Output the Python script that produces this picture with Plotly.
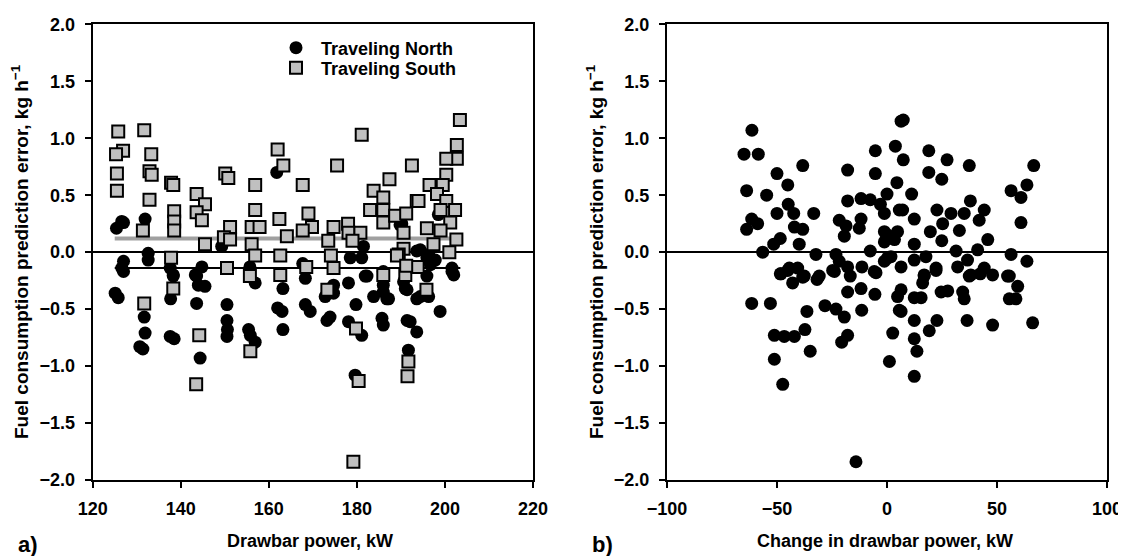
import plotly.graph_objects as go

# ---- Panel a) : Traveling North (circles) ----
north_x = [161.8,127.0,131.9,132.6,132.6,181.5,178.5,181.1,190.2,193.6,144.8,155.7,167.7,149.3,186.0,181.9,127.0,127.0,138.3,143.3,
           126.6,125.4,125.1,125.8,130.7,
           126.6,137.6,138.3,137.7,131.7,131.9,131.4,137.6,138.5,
           143.6,144.0,145.5,143.6,144.4,150.5,150.5,150.6,150.5,
           156.9,155.4,155.8,156.9,162.0,163.0,163.2,163.2,
           168.3,168.3,169.4,172.8,173.9,173.2,174.7,174.7,
           178.1,178.1,179.8,181.1,179.6,182.3,183.8,186.0,186.0,186.8,185.7,186.0,
           190.6,191.4,193.6,191.4,192.1,193.6,191.7,
           187.2,191.0,194.4,196.3,195.9,198.9,201.6,202.0,196.3,197.8,
           189.8,194.4,195.9,196.7,201.6,198.5]
north_y = [0.70,0.26,0.29,-0.01,-0.07,0.05,-0.05,-0.05,0.25,0.01,-0.13,-0.13,-0.10,0.05,-0.17,-0.21,-0.08,-0.17,-0.20,-0.20,
           0.27,0.21,-0.36,-0.40,-0.83,
           -0.14,-0.14,-0.21,-0.41,-0.57,-0.71,-0.85,-0.74,-0.76,
           -0.21,-0.29,-0.30,-0.45,-0.93,-0.46,-0.60,-0.68,-0.74,
           -0.27,-0.68,-0.73,-0.79,-0.49,-0.52,-0.32,-0.68,
           -0.23,-0.46,-0.52,-0.39,-0.57,-0.60,-0.29,-0.36,
           -0.27,-0.61,-0.46,-0.73,-1.08,-0.21,-0.39,-0.29,-0.35,-0.41,-0.58,-0.64,
           -0.26,-0.33,-0.41,-0.60,-0.61,-0.70,-0.86,
           -0.41,-0.32,-0.39,-0.39,-0.21,-0.52,-0.17,-0.20,-0.02,-0.07,
           0.24,0.02,-0.05,-0.11,-0.14,0.33]

# ---- Panel a) : Traveling South (squares) ----
south_x = [125.8,126.9,125.3,125.5,125.5,
           131.7,133.3,132.9,133.4,137.8,138.3,132.9,
           143.6,145.5,143.6,144.8,138.5,138.5,138.5,131.4,
           150.1,150.8,156.9,162.0,163.3,167.7,175.5,181.1,
           192.5,187.4,183.8,186.0,193.6,156.9,169.0,162.4,
           183.0,186.0,186.0,188.7,191.2,190.6,
           151.2,156.1,157.9,169.8,167.7,174.7,178.0,178.1,180.8,
           164.1,149.8,151.2,173.5,179.0,145.5,156.1,190.6,
           156.9,162.6,174.1,189.5,137.8,150.5,174.7,162.6,155.7,168.5,186.0,191.0,
           203.4,202.7,202.7,200.3,200.3,196.5,199.5,194.0,198.2,200.3,202.3,199.0,201.2,195.9,199.0,202.6,197.4,201.0,189.1,193.8,
           191.2,138.3,131.7,173.3,144.2,155.8,179.8,143.5,180.4,191.7,191.5,179.2,195.8]
south_y = [1.06,0.89,0.86,0.69,0.54,
           1.07,0.86,0.71,0.68,0.61,0.59,0.46,
           0.51,0.42,0.35,0.28,0.36,0.27,0.19,0.19,
           0.69,0.65,0.59,0.90,0.76,0.59,0.76,1.03,
           0.76,0.64,0.54,0.48,0.45,0.37,0.34,0.29,
           0.37,0.37,0.26,0.32,0.34,0.17,
           0.22,0.22,0.22,0.22,0.19,0.22,0.25,0.17,0.17,
           0.14,0.13,0.11,0.10,0.10,0.07,0.07,0.03,
           -0.03,-0.03,-0.03,-0.02,-0.05,-0.14,-0.14,-0.20,-0.21,-0.13,-0.20,-0.20,
           1.16,0.94,0.82,0.82,0.68,0.59,0.59,0.45,0.51,0.45,0.37,0.37,0.26,0.21,0.19,0.11,0.07,0.00,-0.03,-0.13,
           -0.12,-0.32,-0.45,-0.33,-0.73,-0.87,-0.67,-1.16,-1.13,-0.96,-1.09,-1.84,-0.33]

# mean error lines (panel a)
mean_x = [125.0, 203.5]
north_mean = -0.14
south_mean = 0.12

# ---- Panel b) : change in drawbar power ----
change_x = [-61.4,-65.0,-58.5,-50.0,-38.3,-45.1,-63.8,-54.7,-50.0,-44.9,-42.4,-33.3,-61.5,-58.8,-63.8,-42.1,-38.3,-48.5,-51.5,-39.9,-56.5,-32.3,
            -17.9,-5.3,-5.3,3.8,6.4,-17.9,-11.8,-7.6,-3.0,0.0,4.5,5.6,-1.2,-21.7,-18.6,-11.8,-12.6,-19.4,-1.2,-1.2,3.4,4.8,-7.6,0.3,
            -23.2,-21.7,-17.9,-11.4,-5.8,-48.2,-44.4,-40.6,-37.6,-30.8,-24.7,
            -48.5,-45.1,-42.9,-38.3,-31.8,-23.9,-16.7,-5.0,-17.9,-11.8,-5.5,-61.5,-53.0,-36.4,-28.2,-23.2,-19.4,-11.5,
            -51.2,-46.7,-42.1,-37.3,-34.9,-20.6,-17.9,-51.2,-47.4,-14.1,2.6,1.1,4.8,5.6,6.4,1.8,
            7.4,19.0,7.4,27.3,37.4,66.7,19.0,24.9,63.6,56.4,60.9,11.2,37.9,22.7,29.1,35.1,44.2,41.9,60.9,7.1,12.4,
            32.9,19.7,25.3,24.9,45.8,41.2,31.4,12.4,0.3,56.4,63.6,12.4,17.7,22.3,32.1,36.6,44.2,54.8,16.9,38.1,48.0,
            -1.2,16.9,22.3,37.4,42.4,55.6,59.4,55.6,58.6,16.2,6.4,12.4,15.5,24.6,27.6,34.4,35.1,
            6.4,12.4,22.7,19.2,36.4,48.0,66.2,12.4,13.6,12.4]
change_y = [1.07,0.86,0.86,0.69,0.76,0.59,0.54,0.50,0.34,0.42,0.34,0.34,0.29,0.25,0.20,0.22,0.20,0.12,0.07,0.07,0.00,-0.02,
            0.72,0.89,0.69,0.93,1.15,0.45,0.47,0.46,0.42,0.51,0.61,0.37,0.34,0.28,0.23,0.29,0.21,0.14,0.18,0.09,0.11,0.18,0.01,-0.05,
            -0.02,-0.08,-0.13,-0.13,-0.17,-0.19,-0.14,-0.14,-0.21,-0.21,-0.16,
            -0.19,-0.16,-0.27,-0.22,-0.24,-0.17,-0.21,-0.18,-0.35,-0.32,-0.37,-0.45,-0.45,-0.52,-0.47,-0.50,-0.57,-0.51,
            -0.73,-0.74,-0.74,-0.68,-0.87,-0.79,-0.73,-0.94,-1.16,-1.84,-0.71,-0.96,-0.39,-0.51,-0.13,-0.04,
            1.16,0.89,0.81,0.81,0.76,0.76,0.70,0.64,0.59,0.54,0.48,0.51,0.45,0.37,0.34,0.34,0.37,0.28,0.26,0.37,0.29,
            0.19,0.18,0.25,0.10,0.11,0.02,0.01,0.07,0.15,-0.02,-0.08,-0.07,-0.04,-0.14,-0.13,-0.07,-0.14,-0.21,-0.20,-0.20,-0.20,
            -0.08,-0.21,-0.16,-0.21,-0.19,-0.21,-0.30,-0.41,-0.41,-0.27,-0.33,-0.40,-0.40,-0.35,-0.34,-0.35,-0.41,
            -0.52,-0.60,-0.60,-0.69,-0.60,-0.64,-0.62,-0.76,-0.87,-1.09]

x_ticks_a = [120, 140, 160, 180, 200, 220]
x_ticks_b = [-100, -50, 0, 50, 100]
y_ticks = [-2.0, -1.5, -1.0, -0.5, 0.0, 0.5, 1.0, 1.5, 2.0]

FONT = "Liberation Sans"
W, H = 1126, 556
OFF = 8  # page body margin offset

fig = go.Figure()

# mean lines (drawn beneath markers)
fig.add_trace(go.Scatter(x=mean_x, y=[south_mean]*2, mode="lines",
                         line=dict(color="#a0a0a0", width=4), showlegend=False,
                         xaxis="x", yaxis="y", hoverinfo="skip"))
fig.add_trace(go.Scatter(x=mean_x, y=[north_mean]*2, mode="lines",
                         line=dict(color="black", width=2), showlegend=False,
                         xaxis="x", yaxis="y", hoverinfo="skip"))

fig.add_trace(go.Scatter(x=north_x, y=north_y, mode="markers", name="Traveling North",
                         marker=dict(symbol="circle", size=13, color="black",
                                     line=dict(width=0)),
                         xaxis="x", yaxis="y", legend="legend"))
fig.add_trace(go.Scatter(x=south_x, y=south_y, mode="markers", name="Traveling South",
                         marker=dict(symbol="square", size=12, color="#c0c0c0",
                                     line=dict(width=2, color="black")),
                         xaxis="x", yaxis="y", legend="legend2"))
fig.add_trace(go.Scatter(x=change_x, y=change_y, mode="markers", showlegend=False,
                         marker=dict(symbol="circle", size=13, color="black",
                                     line=dict(width=0)),
                         xaxis="x2", yaxis="y2"))

def px_x(p):
    return (p - OFF) / W

def px_y(p):
    return (H - (p - OFF)) / H

tickfont = dict(family=FONT, size=18, color="black", weight="bold")
common_axis = dict(showline=True, linewidth=2, linecolor="black", mirror=True,
                   ticks="outside", ticklen=6, tickwidth=1.5, tickcolor="black",
                   showgrid=False, tickfont=tickfont, automargin=False)

ydom = [px_y(480), px_y(24.3)]
legfont = dict(family=FONT, size=18, color="black", weight="bold")

fig.update_layout(
    width=W, height=H,
    paper_bgcolor="white", plot_bgcolor="white",
    margin=dict(l=0, r=0, t=0, b=0, autoexpand=False),
    font=dict(family=FONT, color="black"),
    xaxis=dict(domain=[px_x(92.7), px_x(533)], range=[120, 220], tickvals=x_ticks_a,
               zeroline=False, ticklabelstandoff=5, **common_axis),
    yaxis=dict(domain=ydom, range=[-2, 2], tickvals=y_ticks, tickformat=".1f",
               zeroline=True, zerolinecolor="black", zerolinewidth=2,
               ticklabelstandoff=6, **common_axis),
    xaxis2=dict(domain=[px_x(667), px_x(1107)], range=[-100, 100], tickvals=x_ticks_b,
                zeroline=False, anchor="y2", ticklabelstandoff=5, **common_axis),
    yaxis2=dict(domain=ydom, range=[-2, 2], tickvals=y_ticks, tickformat=".1f",
                zeroline=True, zerolinecolor="black", zerolinewidth=2, anchor="x2",
                ticklabelstandoff=6, **common_axis),
    legend=dict(x=px_x(271), y=px_y(48), xanchor="left", yanchor="middle",
                bgcolor="rgba(0,0,0,0)", borderwidth=0, font=legfont, itemwidth=40),
    legend2=dict(x=px_x(271), y=px_y(68), xanchor="left", yanchor="middle",
                 bgcolor="rgba(0,0,0,0)", borderwidth=0, font=legfont, itemwidth=40),
    showlegend=True,
)

titlefont = dict(family=FONT, size=18, color="black", weight="bold")
ytitlefont = dict(family=FONT, size=19, color="black", weight="bold")
ytitle = "Fuel consumption prediction error, kg h<sup>−1</sup>"
labfont = dict(family=FONT, size=22, color="black", weight="bold")
annotations = [
    dict(text=ytitle, x=px_x(20), y=px_y(252), xref="paper", yref="paper",
         textangle=-90, showarrow=False, font=ytitlefont, xanchor="center", yanchor="middle"),
    dict(text=ytitle, x=px_x(595), y=px_y(252), xref="paper", yref="paper",
         textangle=-90, showarrow=False, font=ytitlefont, xanchor="center", yanchor="middle"),
    dict(text="Drawbar power, kW", x=px_x(310), y=px_y(541), xref="paper", yref="paper",
         showarrow=False, font=titlefont, xanchor="center", yanchor="middle"),
    dict(text="Change in drawbar power, kW", x=px_x(885), y=px_y(541), xref="paper", yref="paper",
         showarrow=False, font=titlefont, xanchor="center", yanchor="middle"),
    dict(text="a)", x=px_x(28), y=px_y(544), xref="paper", yref="paper",
         showarrow=False, font=labfont, xanchor="center", yanchor="middle"),
    dict(text="b)", x=px_x(602), y=px_y(544), xref="paper", yref="paper",
         showarrow=False, font=labfont, xanchor="center", yanchor="middle"),
]
fig.update_layout(annotations=annotations)

fig.write_html("out.html")
